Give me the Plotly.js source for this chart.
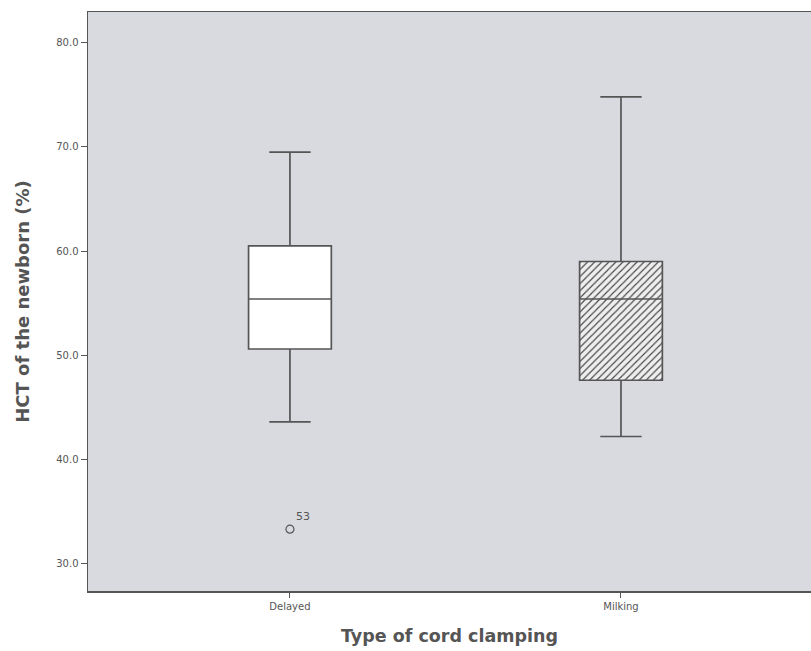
<!DOCTYPE html>
<html>
<head>
<meta charset="utf-8">
<script src="https://cdn.plot.ly/plotly-3.0.1.min.js"></script>
<style>
  html, body { margin: 0; padding: 0; background: #ffffff; }
  #chart { width: 811px; height: 651px; }
</style>
</head>
<body>
<div id="chart"></div>
<script>
// Newborn haematocrit by type of cord clamping (box summary statistics)
const groups = ['Delayed', 'Milking'];
const lowerWhisker = [43.6, 42.2];
const q1 = [50.6, 47.6];
const median = [55.4, 55.4];
const q3 = [60.5, 59.0];
const upperWhisker = [69.5, 74.8];

// Outlying case
const outlierGroup = ['Delayed'];
const outlierValue = [33.3];
const outlierCase = ['53'];

const boxFill = ['#ffffff', '#eeeeef'];
const boxHatch = ['', '/'];
const hatchInk = ['#ffffff', '#4a4a4a'];

const lineCol = '#555555';

const iqr = q3.map((v, i) => v - q1[i]);

const traces = [
  {
    // box interiors (plain or hatched), spanning Q1..Q3
    type: 'bar',
    x: groups,
    y: iqr,
    base: q1,
    width: 0.25,
    marker: {
      color: boxFill,
      opacity: 1,
      line: { width: 0 },
      pattern: { shape: boxHatch, fillmode: 'overlay', fgcolor: hatchInk, fgopacity: 1, size: 5, solidity: 0.22 }
    },
    hoverinfo: 'skip',
    showlegend: false
  },
  {
    type: 'box',
    x: groups,
    q1: q1,
    median: median,
    q3: q3,
    lowerfence: lowerWhisker,
    upperfence: upperWhisker,
    width: 0.25,
    whiskerwidth: 0.5,
    fillcolor: 'rgba(0,0,0,0)',
    line: { color: lineCol, width: 1.7 },
    showlegend: false
  },
  {
    type: 'scatter',
    mode: 'markers+text',
    x: outlierGroup,
    y: outlierValue,
    text: outlierCase,
    textposition: 'top right',
    textfont: { family: 'DejaVu Sans', size: 11, color: '#555555' },
    marker: { symbol: 'circle-open', size: 8, color: lineCol, line: { width: 1.2, color: lineCol } },
    showlegend: false
  }
];

const layout = {
  width: 811,
  height: 651,
  margin: { l: 88, r: 0, t: 12, b: 60 },
  paper_bgcolor: '#ffffff',
  plot_bgcolor: '#d9dae0',
  font: { family: 'DejaVu Sans', color: '#555555' },
  showlegend: false,
  boxmode: 'overlay',
  barmode: 'overlay',
  xaxis: {
    type: 'category',
    range: [-0.61, 1.574],
    showgrid: false,
    zeroline: false,
    showline: true,
    mirror: true,
    linecolor: '#555555',
    linewidth: 1.5,
    ticks: 'outside',
    ticklen: 5,
    tickcolor: '#555555',
    tickfont: { family: 'DejaVu Sans', size: 10, color: '#555555' },
    title: { text: 'Type of cord clamping', font: { family: 'DejaVu Sans', size: 17.5, color: '#555555', weight: 'bold' }, standoff: 19 }
  },
  yaxis: {
    range: [27.37, 82.95],
    tickvals: [30, 40, 50, 60, 70, 80],
    ticktext: ['30.0', '40.0', '50.0', '60.0', '70.0', '80.0'],
    showgrid: false,
    zeroline: false,
    showline: true,
    linecolor: '#555555',
    linewidth: 1.5,
    ticks: 'outside',
    ticklen: 6,
    tickcolor: '#555555',
    tickfont: { family: 'DejaVu Sans', size: 10, color: '#555555' },
    title: { text: 'HCT of the newborn (%)', font: { family: 'DejaVu Sans', size: 18, color: '#555555', weight: 'bold' }, standoff: 22 }
  }
};

Plotly.newPlot('chart', traces, layout, { displayModeBar: false, staticPlot: true });
</script>
</body>
</html>
